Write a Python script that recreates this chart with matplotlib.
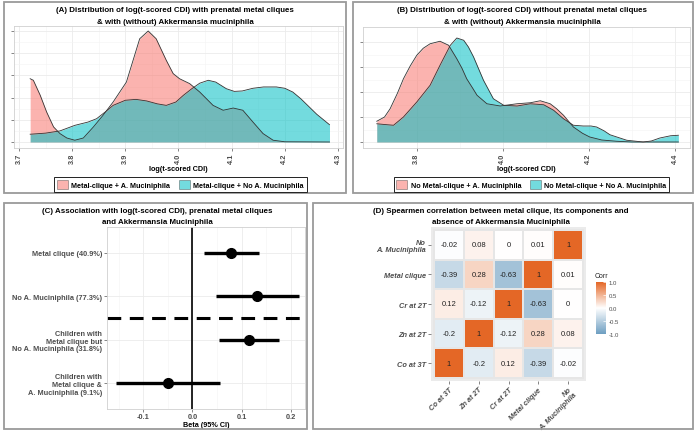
import numpy as np
import matplotlib.pyplot as plt
from matplotlib.patches import Rectangle, Patch
from matplotlib.colors import LinearSegmentedColormap

plt.rcParams['font.family'] = ['Liberation Sans', 'DejaVu Sans']

W, H = 700, 439
PINK = '#F8766D'
TEAL = '#00BFC4'
GREY_TXT = '#4D4D4D'

# ---- panel A densities ----
a_pink_x = [3.721, 3.727, 3.74, 3.752, 3.765, 3.777, 3.79, 3.805, 3.821, 3.84, 3.858, 3.877,
            3.902, 3.927, 3.943, 3.958, 3.977, 3.99, 4.002, 4.021, 4.04, 4.065, 4.084, 4.103,
            4.121, 4.14, 4.159, 4.178, 4.2, 4.284]
a_pink_y = [2.85, 2.78, 2.1, 1.35, 0.68, 0.38, 0.18, 0.08, 0.18, 0.68, 1.2, 1.8,
            2.7, 4.65, 5.0, 4.65, 3.68, 3.08, 2.85, 2.63, 2.25, 1.65, 1.43, 1.53,
            1.43, 0.9, 0.38, 0.08, 0.01, 0.0]
a_teal_x = [3.721, 3.75, 3.777, 3.805, 3.83, 3.846, 3.862, 3.877, 3.9, 3.92, 3.94, 3.96,
            3.977, 3.995, 4.009, 4.025, 4.04, 4.056, 4.07, 4.09, 4.105, 4.12, 4.14, 4.16,
            4.184, 4.2, 4.215, 4.23, 4.245, 4.26, 4.284]
a_teal_y = [0.35, 0.4, 0.5, 0.75, 0.9, 1.05, 1.35, 1.65, 1.88, 1.92, 1.85, 1.72,
            1.65, 1.8, 2.1, 2.4, 2.65, 2.78, 2.7, 2.4, 2.28, 2.3, 2.42, 2.48,
            2.48, 2.42, 2.25, 1.95, 1.6, 1.25, 0.78]

# ---- panel B densities ----
b_pink_x = [3.707, 3.725, 3.738, 3.755, 3.769, 3.785, 3.8, 3.815, 3.831, 3.854, 3.874, 3.893,
            3.905, 3.916, 3.93, 3.94, 3.963, 3.994, 4.033, 4.064, 4.087, 4.11, 4.125, 4.141,
            4.164, 4.185, 4.202, 4.23, 4.264, 4.3, 4.408]
b_pink_y = [0.83, 1.0, 1.33, 1.95, 2.53, 3.05, 3.47, 3.75, 3.93, 4.03, 3.87, 3.33,
            2.95, 2.53, 2.15, 1.87, 1.53, 1.44, 1.53, 1.57, 1.65, 1.53, 1.33, 1.07,
            0.6, 0.35, 0.2, 0.08, 0.03, 0.0, 0.0]
b_teal_x = [3.707, 3.725, 3.746, 3.769, 3.8, 3.831, 3.854, 3.878, 3.893, 3.909, 3.92, 3.932,
            3.955, 3.978, 4.002, 4.033, 4.064, 4.095, 4.118, 4.141, 4.164, 4.187, 4.205, 4.218,
            4.235, 4.249, 4.288, 4.326, 4.345, 4.365, 4.39, 4.408]
b_teal_y = [0.73, 0.7, 0.67, 1.0, 1.6, 2.27, 3.07, 3.87, 4.16, 4.07, 3.8, 3.4,
            2.47, 1.73, 1.47, 1.44, 1.53, 1.49, 1.27, 0.93, 0.67, 0.64, 0.64, 0.6,
            0.45, 0.29, 0.07, 0.0, 0.04, 0.16, 0.25, 0.27]

# ---- panel C forest plot ----
c_labels = ['Metal clique (40.9%)', 'No A. Muciniphila (77.3%)',
            'Children with\nMetal clique but\nNo A. Muciniphila (31.8%)',
            'Children with\nMetal clique &\nA. Muciniphila (9.1%)']
c_beta = [0.079, 0.131, 0.115, -0.049]
c_low = [0.024, 0.048, 0.054, -0.156]
c_high = [0.135, 0.216, 0.176, 0.056]

# ---- panel D correlation ----
d_names = ['Co at 3T', 'Zn at 2T', 'Cr at 2T', 'Metal clique', 'No\nA. Muciniphila']
d_corr = np.array([
    [1, -0.2, 0.12, -0.39, -0.02],
    [-0.2, 1, -0.12, 0.28, 0.08],
    [0.12, -0.12, 1, -0.63, 0],
    [-0.39, 0.28, -0.63, 1, 0.01],
    [-0.02, 0.08, 0, 0.01, 1],
])

fig = plt.figure(figsize=(W / 100, H / 100), dpi=100)


def px_axes(x0, y0, x1, y1):
    return fig.add_axes([x0 / W, 1 - y1 / H, (x1 - x0) / W, (y1 - y0) / H])


def frame(x0, y0, x1, y1):
    fig.patches.append(Rectangle((x0 / W, 1 - y1 / H), (x1 - x0) / W, (y1 - y0) / H,
                                 transform=fig.transFigure, fill=False,
                                 edgecolor='#9A9A9A', lw=1.3))


def ftext(x, y, s, **kw):
    fig.text(x / W, 1 - y / H, s, **kw)


def style_bw(ax):
    ax.set_facecolor('white')
    for sp in ax.spines.values():
        sp.set_color('#D0D0D0')
        sp.set_linewidth(0.6)
    ax.grid(True, which='major', color='#EBEBEB', lw=0.6)
    ax.grid(True, which='minor', color='#F4F4F4', lw=0.4)
    ax.set_axisbelow(True)
    ax.tick_params(length=2, width=0.5, color='#555555', labelsize=5.3,
                   labelcolor=GREY_TXT, pad=1.5)
    for lab in ax.get_xticklabels() + ax.get_yticklabels():
        lab.set_fontweight('bold')


def density_panel(ax, px, py, tx, ty, xlim, ylim, xticks, yticks, fmt):
    ax.fill_between(px, py, color=PINK, alpha=0.55, lw=0)
    ax.plot(px, py, color='#333333', lw=0.6)
    ax.fill_between(tx, ty, color=TEAL, alpha=0.55, lw=0)
    ax.plot(tx, ty, color='#333333', lw=0.6)
    ax.set_xlim(*xlim)
    ax.set_ylim(*ylim)
    ax.set_xticks(xticks)
    ax.set_xticks([(a + b) / 2 for a, b in zip(xticks[:-1], xticks[1:])], minor=True)
    ax.set_xticklabels([fmt.format(v) for v in xticks], rotation=90)
    ax.set_yticks(yticks)
    ax.set_yticks([v + 0.5 for v in yticks[:-1]], minor=True)
    ax.set_yticklabels([])
    ax.tick_params(which='minor', length=0)
    style_bw(ax)
    ax.set_xlabel('log(t-scored CDI)', fontsize=5.2, fontweight='bold', labelpad=1.5)


def density_legend(labels, cx):
    leg = fig.legend(handles=[Patch(facecolor=PINK, alpha=0.55, edgecolor='#333333', lw=0.5),
                              Patch(facecolor=TEAL, alpha=0.55, edgecolor='#333333', lw=0.5)],
                     labels=labels, loc='center', bbox_to_anchor=(cx / W, 1 - 185.5 / H), ncol=2,
                     prop={'size': 5.2, 'weight': 'bold'}, fancybox=False, edgecolor='#222222',
                     handlelength=1.5, handleheight=1.6, handletextpad=0.5, columnspacing=1.2,
                     borderpad=0.4, borderaxespad=0, framealpha=1)
    leg.get_frame().set_linewidth(0.7)


# ---------------- Panel A ----------------
frame(4, 3, 346, 194)
ftext(175, 10, '(A) Distribution of log(t-scored CDI) with prenatal metal cliques',
      ha='center', va='center', fontsize=5.7, fontweight='bold')
ftext(175, 22, '& with (without) Akkermansia muciniphila',
      ha='center', va='center', fontsize=5.7, fontweight='bold')
axA = px_axes(14, 27, 343, 149)
density_panel(axA, a_pink_x, a_pink_y, a_teal_x, a_teal_y,
              (3.6906, 4.3094), (-0.27, 5.225),
              [3.7, 3.8, 3.9, 4.0, 4.1, 4.2, 4.3], [0, 1, 2, 3, 4, 5], '{:.1f}')
density_legend(['Metal-clique + A. Muciniphila', 'Metal-clique + No A. Muciniphila'], 180.5)

# ---------------- Panel B ----------------
frame(353, 3, 693, 194)
ftext(522, 10, '(B) Distribution of log(t-scored CDI) without prenatal metal cliques',
      ha='center', va='center', fontsize=5.7, fontweight='bold')
ftext(522, 22, '& with (without) Akkermansia muciniphila',
      ha='center', va='center', fontsize=5.7, fontweight='bold')
axB = px_axes(363, 28, 690, 149)
density_panel(axB, b_pink_x, b_pink_y, b_teal_x, b_teal_y,
              (3.675, 4.435), (-0.24, 4.6),
              [3.8, 4.0, 4.2, 4.4], [0, 1, 2, 3, 4], '{:.1f}')
density_legend(['No Metal-clique + A. Muciniphila', 'No Metal-clique + No A. Muciniphila'], 531.5)

# ---------------- Panel C ----------------
frame(4, 204, 307, 430)
ftext(157, 212, '(C) Association with log(t-scored CDI), prenatal metal cliques',
      ha='center', va='center', fontsize=5.7, fontweight='bold')
ftext(157, 223, 'and Akkermansia Muciniphila',
      ha='center', va='center', fontsize=5.7, fontweight='bold')
axC = px_axes(107, 228, 305, 410)
rows = [4, 3, 2, 1]
for r, b, lo, hi in zip(rows, c_beta, c_low, c_high):
    axC.plot([lo, hi], [r, r], color='black', lw=2.4, solid_capstyle='butt', zorder=3)
    axC.plot(b, r, 'o', color='black', ms=7.0, zorder=4)
axC.axvline(0, color='black', lw=1.2, zorder=2)
axC.axhline(2.5, color='black', lw=2.2, dashes=(4.5, 2.8), zorder=2)
axC.set_xlim(-0.174, 0.229)
axC.set_ylim(0.41, 4.59)
axC.set_xticks([-0.1, 0.0, 0.1, 0.2])
axC.set_xticks([-0.15, -0.05, 0.05, 0.15], minor=True)
axC.set_xticklabels(['-0.1', '0.0', '0.1', '0.2'])
axC.set_yticks(rows)
axC.set_yticklabels(c_labels, linespacing=1.15)
axC.tick_params(which='minor', length=0)
style_bw(axC)
axC.tick_params(axis='x', pad=1)
axC.set_xlabel('Beta (95% CI)', fontsize=5.2, fontweight='bold', labelpad=0.5)

# ---------------- Panel D ----------------
frame(313, 204, 693, 430)
ftext(501, 212, '(D) Spearmen correlation between metal clique, its components and',
      ha='center', va='center', fontsize=5.7, fontweight='bold')
ftext(501, 223, 'absence of Akkermansia Muciniphila',
      ha='center', va='center', fontsize=5.7, fontweight='bold')
cmap = LinearSegmentedColormap.from_list('corr', ['#6D9EC1', 'white', '#E46726'])
axD = px_axes(431, 228, 586, 382)
axD.set_facecolor('#EBEBEB')
n = len(d_names)
mesh = axD.pcolormesh(np.arange(n + 1) - 0.5, np.arange(n + 1) - 0.5, d_corr,
                      cmap=cmap, vmin=-1, vmax=1, edgecolors='#E6E6E6', linewidth=0.3)
for i in range(n):
    for j in range(n):
        v = d_corr[i, j]
        s = '{:g}'.format(v)
        axD.text(j, i, s, ha='center', va='center', fontsize=5.5, color='#222222')
axD.set_xlim(-0.6, n - 0.4)
axD.set_ylim(-0.6, n - 0.4)
for sp in axD.spines.values():
    sp.set_visible(False)
axD.set_xticks(range(n))
axD.set_yticks(range(n))
axD.set_xticklabels(d_names, rotation=45, ha='right', va='top', rotation_mode='anchor',
                    fontsize=5.3, fontweight='bold', fontstyle='italic', color=GREY_TXT,
                    linespacing=1.0)
axD.set_yticklabels(d_names, fontsize=5.3, fontweight='bold', fontstyle='italic',
                    color=GREY_TXT, linespacing=1.0)
axD.tick_params(length=2, width=0.5, color='#555555', pad=1.5)

cax = px_axes(596, 283, 606, 335)
cb = fig.colorbar(mesh, cax=cax, ticks=[-1, -0.5, 0, 0.5, 1])
cb.ax.set_yticklabels(['-1.0', '-0.5', '0.0', '0.5', '1.0'])
cb.ax.tick_params(labelsize=4.3, length=2, color='white', width=0.5, direction='in',
                  labelcolor=GREY_TXT, pad=2)
cb.outline.set_visible(False)
ftext(595, 276, 'Corr', ha='left', va='center', fontsize=5.0, color='#222222')

fig.savefig('out.png', dpi=100)
